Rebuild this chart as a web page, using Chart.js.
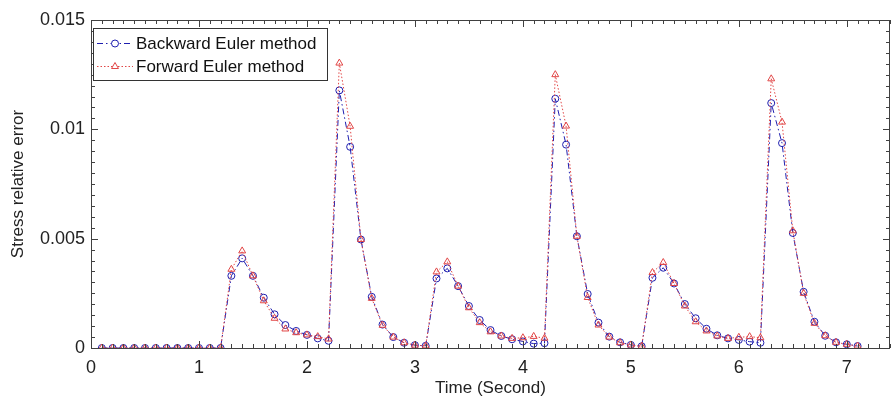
<!DOCTYPE html>
<html>
<head>
<meta charset="utf-8">
<script src="https://cdn.jsdelivr.net/npm/chart.js@4"></script>
<style>
html,body{margin:0;padding:0;background:#fff;}
#wrap{width:895px;height:401px;}
</style>
</head>
<body>
<div id="wrap"><canvas id="c" width="895" height="401"></canvas></div>
<script>
const timeSec = [0.1,0.2,0.3,0.4,0.5,0.6,0.7,0.8,0.9,1.0,1.1,1.2,1.3,1.4,1.5,1.6,1.7,1.8,1.9,2.0,
2.1,2.2,2.3,2.4,2.5,2.6,2.7,2.8,2.9,3.0,3.1,3.2,3.3,3.4,3.5,3.6,3.7,3.8,3.9,4.0,
4.1,4.2,4.3,4.4,4.5,4.6,4.7,4.8,4.9,5.0,5.1,5.2,5.3,5.4,5.5,5.6,5.7,5.8,5.9,6.0,
6.1,6.2,6.3,6.4,6.5,6.6,6.7,6.8,6.9,7.0,7.1];

const backwardEuler = [0,0,0,0,0,0,0,0,0,0,0,0,
0.0033,0.0041,0.0033,0.0023,0.00154,0.00105,0.00078,0.0006,0.00044,0.00033,
0.01178,0.0092,0.00496,0.00234,0.00107,0.0005,0.00024,0.00013,0.0001,
0.00318,0.00364,0.00283,0.00192,0.00128,0.00082,0.00055,0.0004,0.0003,0.0002,0.00022,
0.0114,0.0093,0.00511,0.00247,0.00116,0.00052,0.00026,0.00014,0.00008,
0.00321,0.00367,0.00295,0.00201,0.00136,0.00088,0.00058,0.00044,0.00037,0.00029,0.00024,
0.0112,0.00937,0.00526,0.00257,0.0012,0.00056,0.00026,0.00017,0.00009];

const forwardEuler = [0,0,0,0,0,0,0,0,0,0,0,0,
0.0036,0.00444,0.0033,0.00216,0.00136,0.00087,0.0007,0.0006,0.00052,0.00041,
0.01303,0.01014,0.00496,0.00227,0.00104,0.0005,0.00024,0.00013,0.0001,
0.00348,0.00394,0.00283,0.00184,0.00116,0.00074,0.00055,0.00044,0.00047,0.00053,0.00045,
0.0125,0.01015,0.00511,0.00231,0.00105,0.0005,0.00024,0.00014,0.00008,
0.00345,0.00391,0.00295,0.00192,0.0012,0.00078,0.00055,0.00044,0.00049,0.00052,0.00047,
0.01231,0.01033,0.00536,0.0025,0.00113,0.00056,0.00026,0.00017,0.00009];

const yTickValues = [0, 0.005, 0.01, 0.015];
const yTickLabels = ["0", "0.005", "0.01", "0.015"];
const xTickLabels = ["0","1","2","3","4","5","6","7"];
const seriesNames = ["Backward Euler method", "Forward Euler method"];

const BLUE = 'rgb(30,30,175)';
const RED = 'rgb(225,70,70)';
const AXIS = '#404040';
const FONT = '"Liberation Sans", Arial, Helvetica, sans-serif';

const toPts = arr => arr.map((v, i) => ({x: timeSec[i], y: v}));

const boxTicks = {
  id: 'boxTicks',
  afterDatasetsDraw(chart) {
    const {ctx, chartArea: a, scales: {x, y}} = chart;
    ctx.save();
    ctx.strokeStyle = AXIS;
    ctx.lineWidth = 1;
    ctx.setLineDash([]);
    ctx.beginPath();
    ctx.rect(Math.round(a.left) + 0.5, Math.round(a.top) + 0.5, Math.round(a.right - a.left) - 1, Math.round(a.bottom - a.top));
    ctx.stroke();
    ctx.beginPath();
    for (let k = 0; k <= 74; k++) {
      const v = k / 10;
      const px = Math.round(x.getPixelForValue(v)) + 0.5;
      const len = (k % 10 === 0) ? 7 : 4;
      ctx.moveTo(px, a.bottom); ctx.lineTo(px, a.bottom - len);
      ctx.moveTo(px, a.top); ctx.lineTo(px, a.top + len);
    }
    for (let k = 0; k <= 30; k++) {
      const v = k * 0.0005;
      const py = Math.round(y.getPixelForValue(v)) + 0.5;
      const len = (k % 10 === 0) ? 7 : 4;
      ctx.moveTo(a.left, py); ctx.lineTo(a.left + len, py);
      ctx.moveTo(a.right, py); ctx.lineTo(a.right - len, py);
    }
    ctx.stroke();
    ctx.restore();
  },
  afterDraw(chart) {
    const {ctx} = chart;
    const ds = chart.data.datasets;
    ctx.save();
    const bx = 93.5, by = 28.5, bw = 234, bh = 52;
    ctx.fillStyle = '#fff';
    ctx.fillRect(bx, by, bw, bh);
    ctx.strokeStyle = '#333';
    ctx.lineWidth = 1;
    ctx.strokeRect(bx, by, bw, bh);
    const rows = [43, 66];
    ds.forEach((d, i) => {
      const yy = rows[i] + 0.5;
      ctx.strokeStyle = d.borderColor;
      ctx.lineWidth = 1;
      ctx.setLineDash(d.borderDash);
      ctx.beginPath();
      ctx.moveTo(97, yy); ctx.lineTo(133, yy);
      ctx.stroke();
      ctx.setLineDash([]);
      ctx.fillStyle = '#fff';
      ctx.strokeStyle = d.pointBorderColor;
      Chart.helpers.drawPoint(ctx, {pointStyle: d.pointStyle, radius: d.pointRadius, borderWidth: 1}, 115, yy);
      ctx.fillStyle = '#111';
      ctx.font = '17px ' + FONT;
      ctx.textBaseline = 'middle';
      ctx.textAlign = 'left';
      ctx.fillText(d.label, 136, rows[i] + 1);
    });
    ctx.restore();
  }
};

new Chart(document.getElementById('c'), {
  type: 'line',
  data: {
    datasets: [
      {
        label: seriesNames[0],
        data: toPts(backwardEuler),
        borderColor: BLUE,
        borderWidth: 1,
        borderDash: [6, 3, 1.5, 3],
        pointStyle: 'circle',
        pointRadius: 3.5,
        pointBorderWidth: 1,
        pointBorderColor: BLUE,
        pointBackgroundColor: 'rgba(0,0,0,0)',
        fill: false,
        tension: 0,
        order: 2
      },
      {
        label: seriesNames[1],
        data: toPts(forwardEuler),
        borderColor: RED,
        borderWidth: 1,
        borderDash: [1.5, 2],
        pointStyle: 'triangle',
        pointRadius: 4,
        pointBorderWidth: 1,
        pointBorderColor: RED,
        pointBackgroundColor: 'rgba(0,0,0,0)',
        fill: false,
        tension: 0,
        order: 1
      }
    ]
  },
  options: {
    responsive: false,
    animation: false,
    devicePixelRatio: 1,
    layout: {padding: {top: 20, right: 3, left: 0, bottom: 0}},
    plugins: {legend: {display: false}, tooltip: {enabled: false}},
    scales: {
      x: {
        type: 'linear',
        min: 0,
        max: 7.4,
        grid: {display: false, drawTicks: false},
        border: {display: false},
        afterBuildTicks(s) { s.ticks = xTickLabels.map(t => ({value: Number(t)})); },
        afterFit(s) { s.height = 53; },
        ticks: {
          padding: 9,
          color: '#222',
          font: {family: FONT, size: 18},
          callback: (v) => xTickLabels[xTickLabels.indexOf(String(v))] ?? String(v)
        },
        title: {
          display: true,
          text: 'Time (Second)',
          color: '#222',
          font: {family: FONT, size: 17},
          padding: {top: 0, bottom: 2}
        }
      },
      y: {
        type: 'linear',
        min: 0,
        max: 0.015,
        grid: {display: false, drawTicks: false},
        border: {display: false},
        afterBuildTicks(s) { s.ticks = yTickValues.map(v => ({value: v})); },
        afterFit(s) { s.width = 91; },
        ticks: {
          padding: 6,
          color: '#222',
          font: {family: FONT, size: 18},
          callback: (v) => { const i = yTickValues.findIndex(t => Math.abs(t - v) < 1e-9); return i >= 0 ? yTickLabels[i] : ''; }
        },
        title: {
          display: true,
          text: 'Stress relative error',
          color: '#222',
          font: {family: FONT, size: 17},
          padding: {top: 8, bottom: 0}
        }
      }
    }
  },
  plugins: [boxTicks]
});
</script>
</body>
</html>
